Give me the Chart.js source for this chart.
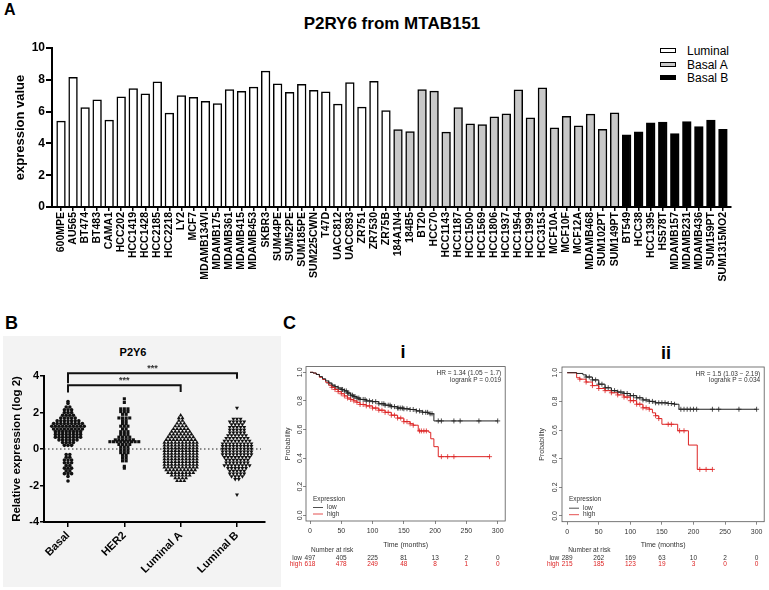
<!DOCTYPE html>
<html>
<head>
<meta charset="utf-8">
<title>P2RY6 expression</title>
<script src="https://cdn.jsdelivr.net/npm/chart.js@4.4.1/dist/chart.umd.min.js"></script>
<style>
  body { margin: 0; width: 769px; height: 590px; position: relative; overflow: hidden; background: #fff; font-family: "Liberation Sans", Arial, sans-serif; }
  .txt { position: absolute; white-space: nowrap; color: #000; font-family: "Liberation Sans", Arial, sans-serif; }
  canvas { position: absolute; }
  .legRow { position: absolute; left: 660px; width: 100px; height: 14px; line-height: 14px; font-size: 12px; white-space: nowrap; }
  .legBox { position: absolute; left: 0; top: 4px; width: 14px; height: 3px; border: 1.5px solid #000; }
  .legText { position: absolute; left: 27px; top: 0; white-space: nowrap; }
</style>
</head>
<body>
<div class="txt" style="left:4px;top:2px;font-weight:bold;font-size:16px;line-height:16px">A</div>
<div class="txt" style="left:392px;top:15px;transform:translateX(-50%);font-weight:bold;font-size:17px;line-height:17px">P2RY6 from MTAB151</div>
<div id="legendA"></div>
<canvas id="barChart" width="769" height="300" style="left:0;top:0"></canvas>

<div style="position:absolute;left:3px;top:336px;width:278px;height:251px;background:#f3f3f3"></div>
<div class="txt" style="left:5px;top:314px;font-weight:bold;font-size:18px;line-height:18px">B</div>
<div class="txt" style="left:133px;top:347px;transform:translateX(-50%);font-weight:bold;font-size:11px;line-height:11px">P2Y6</div>
<canvas id="dotChart" width="278" height="250" style="left:3px;top:336px"></canvas>

<div class="txt" style="left:283px;top:314px;font-weight:bold;font-size:18px;line-height:18px">C</div>
<div class="txt" style="left:403px;top:343px;transform:translateX(-50%);font-weight:bold;font-size:18px;line-height:18px">i</div>
<div class="txt" style="left:666px;top:344px;transform:translateX(-50%);font-weight:bold;font-size:18px;line-height:18px">ii</div>
<canvas id="kmI" width="242" height="214" style="left:268px;top:356px"></canvas>
<canvas id="kmII" width="244" height="214" style="left:525px;top:356px"></canvas>

<script>
// ---- panel A: cell lines ----
const luminalLines = ["600MPE", "AU565", "BT474", "BT483", "CAMA1", "HCC202", "HCC1419", "HCC1428", "HCC2185", "HCC2218",
  "LY2", "MCF7", "MDAMB134VI", "MDAMB175", "MDAMB361", "MDAMB415", "MDAMB453", "SKBR3", "SUM44PE", "SUM52PE",
  "SUM185PE", "SUM225CWN", "T47D", "UACC812", "UACC893", "ZR751", "ZR7530", "ZR75B"];
const luminalValues = [5.40, 8.15, 6.26, 6.74, 5.46, 6.93, 7.44, 7.12, 7.88, 5.90,
  7.00, 6.89, 6.64, 6.51, 7.39, 7.27, 7.54, 8.55, 7.75, 7.21,
  7.71, 7.33, 7.25, 6.47, 7.82, 6.28, 7.90, 6.06];
const basalALines = ["184A1N4", "184B5", "BT20", "HCC70", "HCC1143", "HCC1187", "HCC1500", "HCC1569", "HCC1806", "HCC1937",
  "HCC1954", "HCC1999", "HCC3153", "MCF10A", "MCF10F", "MCF12A", "MDAMB468", "SUM102PT", "SUM149PT"];
const basalAValues = [4.87, 4.75, 7.39, 7.29, 4.71, 6.26, 5.23, 5.19, 5.67, 5.86,
  7.37, 5.61, 7.50, 4.98, 5.71, 5.10, 5.84, 4.89, 5.92];
const basalBLines = ["BT549", "HCC38", "HCC1395", "HS578T", "MDAMB157", "MDAMB231", "MDAMB436", "SUM159PT", "SUM1315MO2"];
const basalBValues = [4.54, 4.73, 5.29, 5.34, 4.62, 5.38, 5.06, 5.46, 4.89];
const groupNames = ["Luminal", "Basal A", "Basal B"];
const barTicksY = [0, 2, 4, 6, 8, 10];

// ---- panel B: PAM50 subtypes (value rows and number of samples in each row) ----
const subtypes = ["Basal", "HER2", "Luminal A", "Luminal B"];
const basalLevels = [2.6, 2.5, 2.3, 2.15, 2.0, 1.85, 1.7, 1.55, 1.4, 1.25,
  1.1, 0.95, 0.8, 0.65, 0.5, 0.35, 0.2,
  -0.3, -0.45, -0.6, -0.75, -0.9, -1.05, -1.2, -1.35, -1.5, -1.75];
const basalCounts = [1, 1, 2, 3, 3, 4, 5, 7, 9, 10,
  9, 8, 8, 8, 6, 4, 3,
  2, 2, 3, 3, 2, 3, 2, 3, 1, 1];
const her2Levels = [2.75, 2.55, 2.2, 2.05, 1.9, 1.7, 1.55, 1.4, 1.25, 1.1,
  0.95, 0.8, 0.65, 0.5, 0.4, 0.25, 0.1,
  -0.05, -0.2, -0.35, -0.5, -0.65, -0.95, -1.05];
const her2Counts = [1, 1, 3, 3, 2, 4, 2, 2, 3, 2,
  3, 3, 4, 6, 9, 4, 3,
  3, 3, 2, 2, 2, 1, 1];
const lumALevels = [1.85, 1.7, 1.55, 1.4, 1.25, 1.1, 0.95, 0.8, 0.65, 0.5,
  0.35, 0.2, 0.05, -0.1, -0.25, -0.4, -0.55, -0.7, -0.85, -1.0,
  -1.15, -1.3, -1.45, -1.6, -1.75];
const lumACounts = [1, 2, 2, 3, 4, 5, 6, 7, 8, 9,
  10, 10, 10, 10, 10, 10, 10, 10, 10, 10,
  9, 8, 6, 4, 3];
const lumBLevels = [2.25, 1.65, 1.5, 1.35, 1.2, 1.05, 0.9, 0.75, 0.6, 0.45,
  0.3, 0.15, 0.0, -0.15, -0.3, -0.45, -0.6, -0.75, -0.9, -1.05,
  -1.2, -1.35, -1.5, -1.65, -2.5];
const lumBCounts = [1, 3, 5, 4, 5, 5, 5, 6, 7, 8,
  9, 9, 9, 9, 9, 8, 7, 7, 8, 6,
  5, 5, 4, 2, 1];
const dotTicksY = [-4, -2, 0, 2, 4];

// ---- panel C: Kaplan-Meier curves ----
const kmTicksX = [0, 50, 100, 150, 200, 250, 300];
const kmTicksY = [0, 0.2, 0.4, 0.6, 0.8, 1.0];

const lowTimesI = [0, 5, 10, 15, 20, 25, 30, 35, 40, 45, 50, 55, 60, 65, 70, 75, 80, 90, 100, 110, 120, 130, 140, 150, 160, 170, 180, 190, 198, 300];
const lowSurvI = [1.0, 0.995, 0.985, 0.97, 0.955, 0.94, 0.925, 0.91, 0.9, 0.89, 0.88, 0.87, 0.855, 0.84, 0.83, 0.82, 0.81, 0.8, 0.795, 0.78, 0.77, 0.76, 0.75, 0.745, 0.74, 0.73, 0.72, 0.71, 0.66, 0.66];
const lowCensorI = [30, 35, 40, 45, 50, 52, 55, 58, 60, 62, 65, 68, 70, 72, 75, 78, 80, 85, 88, 90, 95, 100, 105, 110, 115, 118, 120, 125, 128, 130, 135, 140, 142, 145, 148, 150, 155, 160, 165, 170, 175, 180, 185, 188, 192, 195, 205, 210, 230, 240, 270, 300];
const highTimesI = [0, 5, 10, 15, 20, 25, 30, 35, 40, 45, 50, 55, 60, 65, 70, 75, 80, 90, 100, 110, 120, 130, 140, 150, 160, 165, 173, 180, 190, 193, 198, 205, 287];
const highSurvI = [1.0, 0.995, 0.985, 0.965, 0.95, 0.93, 0.91, 0.895, 0.88, 0.865, 0.85, 0.835, 0.82, 0.81, 0.8, 0.79, 0.775, 0.765, 0.75, 0.735, 0.72, 0.7, 0.68, 0.655, 0.64, 0.63, 0.59, 0.59, 0.58, 0.535, 0.48, 0.41, 0.41];
const highCensorI = [35, 40, 45, 50, 55, 60, 65, 70, 75, 80, 85, 90, 95, 100, 105, 110, 115, 120, 125, 130, 135, 140, 145, 150, 155, 160, 165, 175, 178, 182, 186, 210, 220, 230, 287];
const riskLowI = [497, 405, 225, 81, 13, 2, 0];
const riskHighI = [618, 478, 249, 48, 8, 1, 0];

const lowTimesII = [0, 15, 25, 30, 40, 50, 60, 70, 80, 90, 100, 110, 120, 130, 140, 150, 160, 170, 177, 300];
const lowSurvII = [1.0, 0.995, 0.985, 0.97, 0.95, 0.92, 0.895, 0.875, 0.865, 0.855, 0.84, 0.825, 0.81, 0.8, 0.79, 0.79, 0.785, 0.78, 0.745, 0.745];
const lowCensorII = [30, 35, 40, 45, 50, 55, 60, 65, 70, 75, 80, 85, 90, 95, 100, 105, 110, 115, 120, 125, 130, 135, 140, 145, 150, 155, 160, 165, 170, 180, 185, 190, 195, 200, 205, 230, 240, 272, 300];
const highTimesII = [0, 15, 20, 30, 40, 50, 60, 70, 80, 90, 100, 110, 120, 130, 135, 140, 145, 150, 175, 192, 206, 230];
const highSurvII = [1.0, 0.965, 0.955, 0.935, 0.91, 0.89, 0.875, 0.86, 0.845, 0.83, 0.805, 0.78, 0.755, 0.745, 0.72, 0.7, 0.68, 0.64, 0.595, 0.495, 0.325, 0.325];
const highCensorII = [20, 30, 40, 50, 60, 70, 80, 90, 95, 100, 105, 110, 115, 120, 125, 130, 140, 145, 160, 165, 178, 185, 210, 220, 230];
const riskLowII = [289, 262, 169, 63, 10, 2, 0];
const riskHighII = [215, 185, 123, 19, 3, 0, 0];

Chart.defaults.font.family = "'Liberation Sans', Arial, sans-serif";
Chart.defaults.color = "#000";

const groupFills = ["#ffffff", "#c8c8c8", "#000000"];
const lowColor = "#222222";
const highColor = "#dd2424";

// ---------------- panel A ----------------
const groupLines = [luminalLines, basalALines, basalBLines];
const groupValues = [luminalValues, basalAValues, basalBValues];
const allLines = [].concat(...groupLines);

let start = 0;
const barDatasets = groupNames.map((name, g) => {
  const first = start;
  start += groupLines[g].length;
  return {
    label: name,
    data: groupValues[g].map((v, i) => ({ x: first + i, y: v })),
    backgroundColor: groupFills[g],
    borderColor: "#000",
    borderWidth: 1.5,
    barThickness: 8.7,
    grouped: false
  };
});

const legendDiv = document.getElementById("legendA");
groupNames.forEach((name, g) => {
  const row = document.createElement("div");
  row.className = "legRow";
  row.style.top = (44 + g * 13.5) + "px";
  row.innerHTML = `<div class="legBox" style="background:${groupFills[g]}"></div><div class="legText">${name}</div>`;
  legendDiv.appendChild(row);
});

new Chart(document.getElementById("barChart"), {
  type: "bar",
  data: { datasets: barDatasets },
  options: {
    responsive: false,
    animation: false,
    devicePixelRatio: 1,
    layout: { padding: { left: 0, right: 38, top: 48, bottom: 0 } },
    plugins: { legend: { display: false }, tooltip: { enabled: false } },
    scales: {
      x: {
        type: "linear",
        min: -0.75,
        max: 55.67,
        offset: false,
        afterBuildTicks: (s) => { s.ticks = allLines.map((_, i) => ({ value: i })); },
        afterFit: (s) => { s.height = 93; },
        border: { color: "#000", width: 2 },
        grid: { drawOnChartArea: false, offset: false, color: "#000", lineWidth: 1.5, tickLength: 4 },
        ticks: {
          autoSkip: false, minRotation: 90, maxRotation: 90, padding: 1, color: "#000",
          font: { size: 10.5, weight: "bold" },
          callback: (v) => allLines[v]
        }
      },
      y: {
        min: 0,
        max: 10,
        afterBuildTicks: (s) => { s.ticks = barTicksY.map((v) => ({ value: v })); },
        afterFit: (s) => { s.width = 52; },
        border: { color: "#000", width: 2 },
        grid: { drawOnChartArea: false, color: "#000", lineWidth: 2, tickLength: 6 },
        ticks: { padding: 1, color: "#000", font: { size: 12, weight: "bold" } },
        title: {
          display: true, text: "expression value", color: "#000",
          font: { size: 13, weight: "bold" }, padding: { top: 12.2, bottom: 0 }
        }
      }
    }
  }
});

// ---------------- panel B ----------------
const dotStep = 0.064; // horizontal spacing of dots in a row, x units

function dotRows(levels, counts, group) {
  const pts = [];
  levels.forEach((v, r) => {
    const n = counts[r];
    for (let k = 0; k < n; k++) {
      pts.push({ x: group + (k - (n - 1) / 2) * dotStep, y: v });
    }
  });
  return pts;
}

const dotSets = [
  { data: dotRows(basalLevels, basalCounts, 0), pointStyle: "circle", pointRadius: 1.8 },
  { data: dotRows(her2Levels, her2Counts, 1), pointStyle: "rect", pointRadius: 2.2 },
  { data: dotRows(lumALevels, lumACounts, 2), pointStyle: "triangle", pointRadius: 2.3 },
  { data: dotRows(lumBLevels, lumBCounts, 3), pointStyle: "triangle", pointRadius: 2.3, pointRotation: 180 }
].map((d) => Object.assign(d, { backgroundColor: "#111", borderWidth: 0, showLine: false }));

const dotDecor = {
  id: "dotDecor",
  beforeDatasetsDraw(chart) {
    const { ctx, chartArea: a, scales: { y } } = chart;
    const y0 = y.getPixelForValue(0);
    ctx.save();
    ctx.strokeStyle = "#222";
    ctx.lineWidth = 1.2;
    ctx.setLineDash([1.5, 2.5]);
    ctx.beginPath();
    ctx.moveTo(a.left, y0);
    ctx.lineTo(a.right - 4, y0);
    ctx.stroke();
    ctx.restore();
  },
  afterDatasetsDraw(chart) {
    const { ctx, scales: { x, y } } = chart;
    ctx.save();
    ctx.strokeStyle = "#111";
    ctx.lineWidth = 2;
    const bracket = (from, to, level, dropFrom, dropTo) => {
      ctx.beginPath();
      ctx.moveTo(x.getPixelForValue(from), y.getPixelForValue(dropFrom));
      ctx.lineTo(x.getPixelForValue(from), y.getPixelForValue(level));
      ctx.lineTo(x.getPixelForValue(to), y.getPixelForValue(level));
      ctx.lineTo(x.getPixelForValue(to), y.getPixelForValue(dropTo));
      ctx.stroke();
    };
    bracket(0, 3, 4.15, 3.6, 3.85);
    bracket(0, 2, 3.5, 3.1, 3.12);
    ctx.fillStyle = "#333";
    ctx.font = "bold 9px 'Liberation Sans'";
    ctx.textAlign = "center";
    ctx.textBaseline = "middle";
    ctx.fillText("***", x.getPixelForValue(1.5), y.getPixelForValue(4.42));
    ctx.fillText("***", x.getPixelForValue(1), y.getPixelForValue(3.75));
    ctx.restore();
  }
};

new Chart(document.getElementById("dotChart"), {
  type: "scatter",
  data: { datasets: dotSets },
  options: {
    responsive: false,
    animation: false,
    devicePixelRatio: 1,
    layout: { padding: { left: 0, right: 16, top: 40, bottom: 0 } },
    plugins: { legend: { display: false }, tooltip: { enabled: false } },
    scales: {
      x: {
        type: "linear",
        min: -0.426,
        max: 3.497,
        afterBuildTicks: (s) => { s.ticks = subtypes.map((_, i) => ({ value: i })); },
        afterFit: (s) => { s.height = 64; },
        border: { color: "#000", width: 2 },
        grid: { drawOnChartArea: false, color: "#000", lineWidth: 1.5, tickLength: 5 },
        ticks: {
          autoSkip: false, minRotation: 45, maxRotation: 45, padding: 2, color: "#000",
          font: { size: 11, weight: "bold" },
          callback: (v) => subtypes[v]
        }
      },
      y: {
        min: -4,
        max: 4,
        afterBuildTicks: (s) => { s.ticks = dotTicksY.map((v) => ({ value: v })); },
        afterFit: (s) => { s.width = 41; },
        border: { color: "#000", width: 2 },
        grid: { drawOnChartArea: false, color: "#000", lineWidth: 1.5, tickLength: 4 },
        ticks: { padding: 1, color: "#000", font: { size: 11, weight: "bold" } },
        title: {
          display: true, text: "Relative expression (log 2)", color: "#000",
          font: { size: 11.5, weight: "bold" }, padding: { top: 7.1, bottom: 0 }
        }
      }
    }
  },
  plugins: [dotDecor]
});

// ---------------- panel C ----------------
function survAt(times, surv, t) {
  let s = surv[0];
  for (let i = 0; i < times.length; i++) {
    if (times[i] <= t) s = surv[i];
  }
  return s;
}

function kmDecor(p) {
  return {
    id: "kmDecor",
    afterDraw(chart) {
      const { ctx, chartArea: a, scales: { x } } = chart;
      ctx.save();
      ctx.strokeStyle = "#555";
      ctx.lineWidth = 0.8;
      ctx.strokeRect(a.left, a.top, a.right - a.left, a.bottom - a.top);

      ctx.font = "6.5px 'Liberation Sans'";
      ctx.fillStyle = "#333";
      ctx.textBaseline = "middle";
      ctx.textAlign = "right";
      ctx.fillText(p.hr, a.right - 4, a.top + 7);
      ctx.fillText(p.logrank, a.right - 4, a.top + 13.5);

      // legend box
      ctx.textAlign = "left";
      ctx.fillText("Expression", a.left + 7, a.bottom - 22);
      [[lowColor, "low", 13.5], [highColor, "high", 7]].forEach(([c, t, dy]) => {
        ctx.strokeStyle = c;
        ctx.lineWidth = 0.8;
        ctx.beginPath();
        ctx.moveTo(a.left + 7, a.bottom - dy);
        ctx.lineTo(a.left + 17, a.bottom - dy);
        ctx.stroke();
        ctx.fillStyle = "#333";
        ctx.fillText(t, a.left + 21, a.bottom - dy);
      });

      // number at risk
      const x0 = x.getPixelForValue(0);
      ctx.fillStyle = "#333";
      ctx.fillText("Number at risk", x0 + 1, 194.7);
      ctx.textAlign = "right";
      ctx.fillText("low", x0 - 8, 202.3);
      ctx.fillStyle = highColor;
      ctx.fillText("high", x0 - 8, 208.3);
      ctx.textAlign = "center";
      kmTicksX.forEach((t, i) => {
        const px = x.getPixelForValue(t);
        ctx.fillStyle = "#333";
        ctx.fillText(String(p.riskLow[i]), px, 202.3);
        ctx.fillStyle = highColor;
        ctx.fillText(String(p.riskHigh[i]), px, 208.3);
      });
      ctx.restore();
    }
  };
}

function kmChart(id, p) {
  const curve = (t, s) => t.map((v, i) => ({ x: v, y: s[i] }));
  const marks = (c, t, s) => c.map((v) => ({ x: v, y: survAt(t, s, v) }));
  return new Chart(document.getElementById(id), {
    type: "line",
    data: {
      datasets: [
        { data: curve(p.lowT, p.lowS), borderColor: lowColor, borderWidth: 1, stepped: true, pointRadius: 0 },
        { data: curve(p.highT, p.highS), borderColor: highColor, borderWidth: 1, stepped: true, pointRadius: 0 },
        { data: marks(p.lowC, p.lowT, p.lowS), showLine: false, pointStyle: "cross", pointRadius: 2.5, borderColor: lowColor, borderWidth: 0.8 },
        { data: marks(p.highC, p.highT, p.highS), showLine: false, pointStyle: "cross", pointRadius: 2.5, borderColor: highColor, borderWidth: 0.8 }
      ]
    },
    options: {
      responsive: false,
      animation: false,
      devicePixelRatio: 1,
      layout: { padding: { left: 0, right: p.padR, top: p.padT, bottom: 0 } },
      plugins: { legend: { display: false }, tooltip: { enabled: false } },
      scales: {
        x: {
          type: "linear",
          min: p.xMin,
          max: 312,
          afterBuildTicks: (s) => { s.ticks = kmTicksX.map((v) => ({ value: v })); },
          afterFit: (s) => { s.height = p.xH; },
          border: { display: false },
          grid: { drawOnChartArea: false, color: "#555", lineWidth: 0.7, tickLength: 3 },
          ticks: { autoSkip: false, maxRotation: 0, padding: 3, color: "#333", font: { size: 7 } },
          title: { display: true, text: "Time (months)", color: "#333", font: { size: 7 }, padding: { top: 0, bottom: 20.8 } }
        },
        y: {
          min: -0.04,
          max: 1.04,
          afterBuildTicks: (s) => { s.ticks = kmTicksY.map((v) => ({ value: v })); },
          afterFit: (s) => { s.width = p.yW; },
          border: { display: false },
          grid: { drawOnChartArea: false, color: "#555", lineWidth: 0.7, tickLength: 3 },
          ticks: {
            minRotation: 90, maxRotation: 90, crossAlign: "center", padding: p.yPad,
            color: "#333", font: { size: 7 }, callback: (v) => v.toFixed(1)
          },
          title: { display: true, text: "Probability", color: "#333", font: { size: 7 }, padding: { top: p.yTitlePad, bottom: 0 } }
        }
      }
    },
    plugins: [kmDecor(p)]
  });
}

kmChart("kmI", {
  lowT: lowTimesI, lowS: lowSurvI, lowC: lowCensorI,
  highT: highTimesI, highS: highSurvI, highC: highCensorI,
  riskLow: riskLowI, riskHigh: riskHighI,
  hr: "HR = 1.34 (1.05 \u2212 1.7)", logrank: "logrank P = 0.019",
  xMin: -6.4, padR: 4.5, padT: 10.6, xH: 49, yW: 38, yPad: -2, yTitlePad: 15.8
});

kmChart("kmII", {
  lowT: lowTimesII, lowS: lowSurvII, lowC: lowCensorII,
  highT: highTimesII, highS: highSurvII, highC: highCensorII,
  riskLow: riskLowII, riskHigh: riskHighII,
  hr: "HR = 1.5 (1.03 \u2212 2.19)", logrank: "logrank P = 0.034",
  xMin: -8.2, padR: 0.6, padT: 11, xH: 48.3, yW: 37, yPad: -1, yTitlePad: 12.5
});
</script>
</body>
</html>
